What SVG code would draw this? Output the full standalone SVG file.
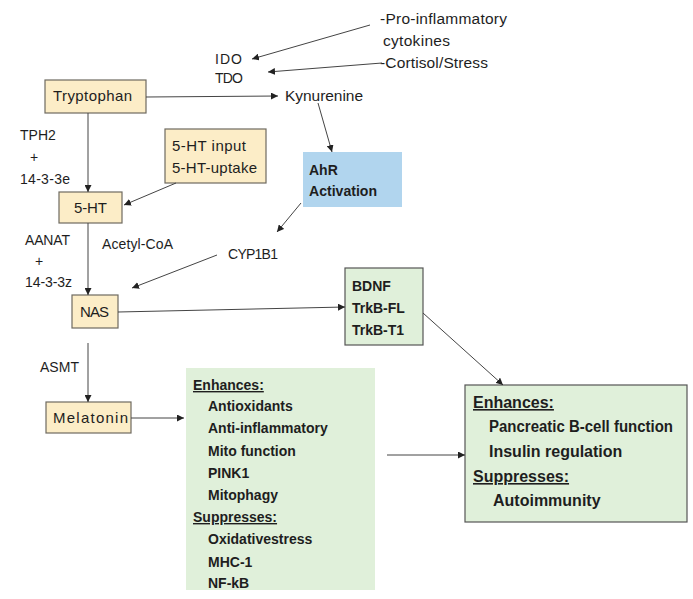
<svg xmlns="http://www.w3.org/2000/svg" width="693" height="599" viewBox="0 0 693 599">
<defs>
<marker id="ah" viewBox="0 0 10 10" refX="10" refY="5" markerWidth="7" markerHeight="7" orient="auto" markerUnits="userSpaceOnUse">
<path d="M0,0 L10,5 L0,10 z" fill="#222"/>
</marker>
<style>
text{font-family:"Liberation Sans",Arial,sans-serif;fill:#1e1e1e;font-size:14px}
.l{font-size:15.5px}
.bx{font-size:15px}
.b{font-weight:bold}
.u{text-decoration:underline}
.r{font-size:16px}
.beige{fill:#fcedc7;stroke:#6e6a60;stroke-width:1.2}
.green{fill:#e0f0da;stroke:#555;stroke-width:1.2}
.greenlt{fill:#e0f0da;stroke:none}
.blue{fill:#b1d5ee;stroke:none}
.c line{stroke:#444;stroke-width:1;marker-end:url(#ah)}
</style>
</defs>
<rect width="693" height="599" fill="#fff"/>

<g id="labels">
<text class="l" x="380" y="24" textLength="127" lengthAdjust="spacing">-Pro-inflammatory</text>
<text class="l" x="383" y="46" textLength="67" lengthAdjust="spacing">cytokines</text>
<text class="l" x="380" y="68" textLength="108" lengthAdjust="spacing">-Cortisol/Stress</text>
<text x="215" y="64" textLength="27" lengthAdjust="spacing">IDO</text>
<text x="215" y="83" textLength="28" lengthAdjust="spacing">TDO</text>
<text class="l" x="285" y="101" textLength="78" lengthAdjust="spacing">Kynurenine</text>
<text x="20" y="140">TPH2</text>
<text x="30" y="162">+</text>
<text x="20" y="184" textLength="50" lengthAdjust="spacing">14-3-3e</text>
<text x="25" y="245" textLength="45" lengthAdjust="spacing">AANAT</text>
<text x="35" y="266">+</text>
<text x="25" y="287" textLength="47" lengthAdjust="spacing">14-3-3z</text>
<text x="102" y="249" textLength="71" lengthAdjust="spacing">Acetyl-CoA</text>
<text x="228" y="259" textLength="50" lengthAdjust="spacing">CYP1B1</text>
<text x="40" y="372" textLength="39" lengthAdjust="spacing">ASMT</text>
</g>

<g id="tryptophan">
<rect class="beige" x="45" y="80" width="101" height="33"/>
<text class="bx" x="53" y="101" textLength="79" lengthAdjust="spacing">Tryptophan</text>
</g>
<g id="ht-input">
<rect class="beige" x="165" y="129" width="101" height="54"/>
<text class="bx" x="172" y="151" textLength="74" lengthAdjust="spacing">5-HT input</text>
<text class="bx" x="172" y="173" textLength="85" lengthAdjust="spacing">5-HT-uptake</text>
</g>
<g id="ht5">
<rect class="beige" x="59" y="192" width="63" height="31"/>
<text class="bx" x="74" y="213" textLength="33" lengthAdjust="spacing">5-HT</text>
</g>
<g id="nas">
<rect class="beige" x="72" y="295" width="46" height="33"/>
<text class="bx" x="80" y="317" textLength="29" lengthAdjust="spacing">NAS</text>
</g>
<g id="melatonin">
<rect class="beige" x="46" y="402" width="85" height="31"/>
<text class="bx" x="53" y="423" textLength="75" lengthAdjust="spacing">Melatonin</text>
</g>
<g id="ahr">
<rect class="blue" x="303" y="152" width="99" height="55"/>
<text class="b" x="309" y="175">AhR</text>
<text class="b" x="309" y="196" textLength="68" lengthAdjust="spacingAndGlyphs">Activation</text>
</g>
<g id="bdnf">
<rect class="green" x="345" y="268" width="78" height="77"/>
<text class="b" x="352" y="291">BDNF</text>
<text class="b" x="352" y="313">TrkB-FL</text>
<text class="b" x="352" y="335">TrkB-T1</text>
</g>
<g id="effects">
<rect class="greenlt" x="186" y="368" width="189" height="222"/>
<text class="b u" x="193" y="390">Enhances:</text>
<text class="b" x="208" y="411">Antioxidants</text>
<text class="b" x="208" y="433">Anti-inflammatory</text>
<text class="b" x="208" y="456">Mito function</text>
<text class="b" x="208" y="478">PINK1</text>
<text class="b" x="208" y="500">Mitophagy</text>
<text class="b u" x="193" y="522">Suppresses:</text>
<text class="b" x="208" y="544">Oxidativestress</text>
<text class="b" x="208" y="567">MHC-1</text>
<text class="b" x="208" y="588">NF-kB</text>
</g>
<g id="outcome">
<rect class="green" x="465" y="385" width="222" height="137"/>
<text class="b u r" x="473" y="408">Enhances:</text>
<text class="b r" x="489" y="432" textLength="184" lengthAdjust="spacingAndGlyphs">Pancreatic B-cell function</text>
<text class="b r" x="489" y="457">Insulin regulation</text>
<text class="b u r" x="473" y="482">Suppresses:</text>
<text class="b r" x="493" y="506">Autoimmunity</text>
</g>

<g id="connectors" class="c">
<line x1="370" y1="25" x2="252" y2="59"/>
<line x1="382" y1="63" x2="268" y2="72"/>
<line x1="146" y1="97" x2="278" y2="96"/>
<line x1="318" y1="103" x2="332" y2="152"/>
<line x1="88" y1="113" x2="88" y2="192"/>
<line x1="176" y1="183" x2="124" y2="205"/>
<line x1="88" y1="223" x2="88" y2="295"/>
<line x1="301" y1="203" x2="277" y2="232"/>
<line x1="217" y1="255" x2="132" y2="288"/>
<line x1="118" y1="312" x2="345" y2="307"/>
<line x1="88" y1="343" x2="88" y2="402"/>
<line x1="423" y1="313" x2="503" y2="385"/>
<line x1="131" y1="418" x2="184" y2="418"/>
<line x1="387" y1="455" x2="465" y2="455"/>
</g>
</svg>
